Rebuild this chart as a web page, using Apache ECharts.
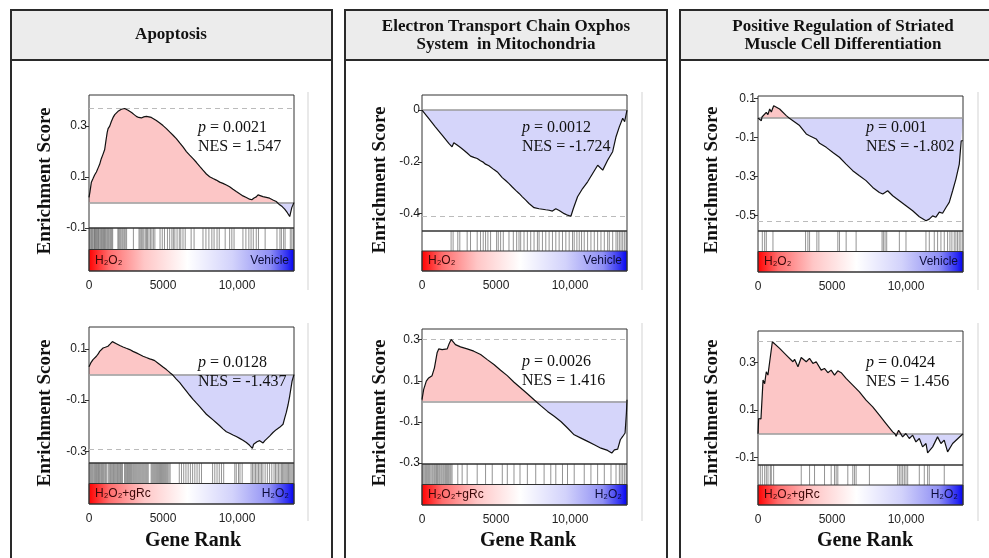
<!DOCTYPE html>
<html><head><meta charset="utf-8">
<script src="https://cdn.jsdelivr.net/npm/echarts@6/dist/echarts.min.js"></script>
<style>html,body{margin:0;padding:0;background:#fff}#c{width:989px;height:558px}</style>
</head><body><div id="c"></div>
<script>
// ---------------- DATA ----------------
const GENES = 13850;
const xTickValues = [0, 5000, 10000];

const headers = ['Apoptosis', 'Electron Transport Chain Oxphos\nSystem  in Mitochondria', 'Positive Regulation of Striated\nMuscle Cell Differentiation'];

const pValues = ['0.0021', '0.0128', '0.0012', '0.0026', '0.001', '0.0424'];
const nesValues = ['1.547', '-1.437', '-1.724', '1.416', '-1.802', '1.456'];
const leftLabels = ['H₂O₂', 'H₂O₂+gRc', 'H₂O₂', 'H₂O₂+gRc', 'H₂O₂', 'H₂O₂+gRc'];
const rightLabels = ['Vehicle', 'H₂O₂', 'Vehicle', 'H₂O₂', 'Vehicle', 'H₂O₂'];

const yTicksA1 = [-0.1, 0.1, 0.3];
const yTicksA2 = [-0.3, -0.1, 0.1];
const yTicksB1 = [-0.4, -0.2, 0];
const yTicksB2 = [-0.3, -0.1, 0.1, 0.3];
const yTicksC1 = [-0.5, -0.3, -0.1, 0.1];
const yTicksC2 = [-0.1, 0.1, 0.3];

// running enrichment scores [gene rank, ES]
const esA1 = [[0,0.02],[60,0.04],[160,0.08],[280,0.095],[380,0.108],[500,0.12],[610,0.135],[720,0.15],[830,0.172],[950,0.19],[1060,0.208],[1150,0.245],[1230,0.275],[1290,0.29],[1400,0.3],[1510,0.318],[1620,0.333],[1740,0.345],[1850,0.35],[1960,0.358],[2080,0.362],[2190,0.366],[2300,0.364],[2410,0.369],[2520,0.366],[2640,0.362],[2750,0.358],[2900,0.352],[3050,0.345],[3200,0.338],[3350,0.334],[3540,0.332],[3700,0.336],[3880,0.338],[4050,0.336],[4210,0.334],[4380,0.328],[4550,0.322],[4780,0.312],[5000,0.302],[5230,0.29],[5450,0.277],[5680,0.264],[5900,0.251],[6130,0.234],[6350,0.218],[6580,0.2],[6800,0.186],[7030,0.172],[7250,0.158],[7480,0.142],[7700,0.127],[7930,0.112],[8150,0.101],[8380,0.094],[8600,0.088],[8830,0.08],[9050,0.075],[9280,0.069],[9500,0.062],[9730,0.052],[9950,0.043],[10180,0.034],[10400,0.026],[10630,0.02],[10850,0.013],[11000,0.011],[11150,0.018],[11300,0.022],[11420,0.03],[11550,0.026],[11750,0.023],[11980,0.02],[12200,0.017],[12430,0.01],[12650,0.004],[12750,0],[12880,-0.009],[13050,-0.016],[13220,-0.026],[13400,-0.04],[13560,-0.055],[13700,-0.02],[13850,0]];
const esA2 = [[0,0.03],[120,0.045],[270,0.058],[400,0.065],[500,0.071],[620,0.08],[720,0.09],[830,0.096],[950,0.103],[1100,0.106],[1280,0.11],[1420,0.118],[1580,0.128],[1700,0.124],[1850,0.12],[2080,0.113],[2300,0.107],[2520,0.102],[2750,0.097],[2970,0.09],[3200,0.084],[3420,0.078],[3650,0.071],[3870,0.066],[4100,0.061],[4270,0.058],[4440,0.054],[4600,0.047],[4780,0.039],[5000,0.029],[5230,0.019],[5450,0.008],[5620,0],[5680,-0.004],[5900,-0.018],[6130,-0.032],[6350,-0.048],[6580,-0.065],[6800,-0.081],[7030,-0.097],[7250,-0.111],[7480,-0.125],[7700,-0.14],[7930,-0.155],[8150,-0.166],[8380,-0.177],[8600,-0.188],[8830,-0.2],[9050,-0.212],[9280,-0.223],[9500,-0.229],[9730,-0.236],[9950,-0.242],[10180,-0.249],[10400,-0.256],[10630,-0.265],[10850,-0.276],[11040,-0.288],[11120,-0.272],[11200,-0.265],[11350,-0.262],[11530,-0.258],[11650,-0.265],[11760,-0.267],[11880,-0.258],[11980,-0.252],[12200,-0.24],[12430,-0.226],[12650,-0.215],[12880,-0.206],[13000,-0.2],[13110,-0.194],[13220,-0.17],[13330,-0.148],[13450,-0.118],[13560,-0.084],[13720,-0.026],[13850,0]];
const esB1 = [[0,0],[450,-0.032],[900,-0.065],[1360,-0.097],[1810,-0.129],[2030,-0.142],[2150,-0.126],[2370,-0.135],[2600,-0.145],[2830,-0.155],[3050,-0.166],[3280,-0.178],[3500,-0.183],[3730,-0.187],[3950,-0.196],[4100,-0.2],[4290,-0.209],[4520,-0.215],[4630,-0.217],[4860,-0.23],[5090,-0.239],[5200,-0.243],[5420,-0.261],[5650,-0.272],[5880,-0.284],[6100,-0.297],[6330,-0.31],[6560,-0.322],[6780,-0.335],[7010,-0.348],[7230,-0.361],[7570,-0.377],[7910,-0.381],[8140,-0.383],[8360,-0.385],[8590,-0.387],[8810,-0.39],[9040,-0.381],[9270,-0.388],[9380,-0.394],[9610,-0.4],[9830,-0.406],[10060,-0.41],[10220,-0.381],[10510,-0.335],[10850,-0.303],[11190,-0.277],[11530,-0.245],[11870,-0.213],[12210,-0.232],[12540,-0.194],[12880,-0.161],[13110,-0.103],[13330,-0.065],[13560,-0.032],[13690,-0.045],[13850,0]];
const esB2 = [[0,0.008],[110,0.057],[290,0.098],[450,0.114],[680,0.125],[840,0.163],[1020,0.236],[1130,0.255],[1360,0.252],[1700,0.255],[1810,0.276],[1970,0.301],[2260,0.276],[2600,0.265],[3050,0.255],[3500,0.244],[3960,0.228],[4410,0.203],[4860,0.179],[5310,0.151],[5760,0.125],[6220,0.093],[6670,0.065],[7120,0.037],[7570,0.008],[7700,0],[8020,-0.021],[8480,-0.049],[8930,-0.073],[9380,-0.098],[9830,-0.13],[10280,-0.163],[10740,-0.179],[11190,-0.195],[11640,-0.211],[12090,-0.228],[12540,-0.239],[12820,-0.252],[13000,-0.236],[13220,-0.233],[13400,-0.187],[13560,-0.171],[13720,-0.154],[13810,-0.057],[13850,0.008]];
const esC1 = [[0,0],[225,-0.014],[270,0.005],[380,0.012],[560,0.029],[670,0.017],[790,0.046],[900,0.031],[1060,0.063],[1460,0.046],[1910,0.012],[2100,0],[2360,-0.014],[2810,-0.039],[3260,-0.082],[3480,-0.091],[3600,-0.082],[3930,-0.108],[4160,-0.13],[4610,-0.151],[5060,-0.177],[5500,-0.202],[5950,-0.237],[6400,-0.271],[6850,-0.297],[7300,-0.322],[7750,-0.357],[8200,-0.383],[8430,-0.391],[8760,-0.374],[9100,-0.4],[9550,-0.425],[10000,-0.451],[10450,-0.477],[10900,-0.508],[11350,-0.528],[11570,-0.52],[11800,-0.503],[12020,-0.51],[12250,-0.484],[12470,-0.49],[12700,-0.46],[12920,-0.434],[13150,-0.374],[13370,-0.314],[13600,-0.237],[13730,-0.117],[13850,-0.117]];
const esC2 = [[0,0],[45,0.064],[160,0.057],[200,0.062],[290,0.055],[340,0.225],[450,0.21],[560,0.26],[670,0.246],[790,0.302],[900,0.295],[970,0.386],[1460,0.358],[1910,0.33],[2360,0.302],[2470,0.312],[2700,0.281],[2920,0.32],[3260,0.302],[3480,0.316],[3710,0.295],[3930,0.302],[4270,0.267],[4490,0.274],[4720,0.256],[4940,0.267],[5170,0.246],[5390,0.264],[5620,0.256],[5950,0.232],[6400,0.204],[6850,0.176],[7300,0.141],[7750,0.113],[8200,0.078],[8650,0.043],[9100,0.008],[9250,0],[9330,-0.01],[9500,0.015],[9770,-0.013],[9990,0.001],[10220,-0.02],[10450,-0.006],[10670,-0.034],[10900,-0.02],[11120,-0.055],[11350,-0.041],[11460,-0.08],[11800,-0.055],[12130,-0.013],[12360,-0.041],[12580,-0.027],[12810,-0.076],[13150,-0.041],[13850,0]];

// gene-set hit positions (gene rank)
const hitsA1 = [30,90,160,210,260,330,380,420,470,520,580,640,690,760,820,870,930,990,1040,1100,1160,1230,1290,1350,1420,1480,1540,1600,1950,2010,2080,2150,2230,2300,2380,2450,2540,3000,3380,3450,3530,3600,3700,3800,3880,3950,4050,4150,4250,4350,4450,4800,4950,5100,5300,5450,5600,5700,5800,5950,6100,6200,6350,6500,6900,7100,7700,7900,8100,8300,8450,8650,8800,9200,9500,9650,9800,10400,10600,10800,10950,11100,11300,11450,11900,12700,12900,13000,13150,13250,13600,13700,13800];
const hitsA2 = [20,80,140,200,260,330,390,450,510,580,640,700,760,830,890,950,1010,1080,1140,1210,1330,1400,1460,1530,1600,1660,1730,1800,1870,1930,2000,2070,2130,2200,2260,2400,2470,2540,2600,2670,2740,2800,2870,2950,3020,3090,3160,3230,3300,3370,3440,3510,3580,3650,3720,3790,3860,3930,4000,4200,4270,4340,4410,4480,4550,4620,4690,4760,4830,4900,4970,5040,5110,5180,5250,5320,5400,5480,6100,6250,6400,6550,6700,6850,7000,7150,7300,7450,7600,8350,8500,8650,8800,8950,9100,9850,9950,10100,10200,10350,10950,11050,11150,11250,11350,11450,11550,11650,11750,11900,12050,12200,12350,12500,12600,12700,12800,12900,13000,13080,13160,13240,13320,13400,13480,13560,13640,13720,13800];
const hitsB1 = [1966,2102,2418,2554,3051,3277,3729,3955,4136,4294,4452,4633,5040,5153,5311,5492,5876,6170,6396,6554,6667,6893,7119,7345,7571,7797,7910,8136,8362,8588,8814,9040,9266,9492,9718,9944,10170,10283,10464,10622,10780,10961,11187,11413,11639,11865,12091,12317,12543,12656,12882,13108,13221,13334,13447,13560,13673,13786];
const hitsB2 = [20,80,150,230,300,380,450,520,600,680,750,830,900,980,1050,1130,1200,1280,1350,1430,1500,1580,1650,1730,1800,1880,1950,2030,2418,2712,3051,3729,4294,4746,5424,5763,6215,6622,7119,7684,8249,8701,9040,9492,9831,10283,10961,11413,11865,12317,12769,13108,13334,13447,13560,13673,13786];
const hitsC1 = [292,449,562,1011,3213,3370,3483,3977,4112,5393,5505,5955,6629,8381,8471,8584,8696,9550,9999,11347,11572,11909,12134,12359,12584,12808,12966,13100,13257,13370,13482,13594,13707];
const hitsC2 = [157,292,449,562,674,831,899,1056,2921,3483,3820,4494,4943,5168,5280,5393,6067,6404,6516,6629,7527,9437,9550,9662,9775,9887,9999,10112,10898,11235,11460,11572,12584];

// ---------------- LAYOUT / STYLE ----------------
const panels = [
  {es: esA1, hits: hitsA1, ticks: yTicksA1, ymin: -0.1,   ymax: 0.422, left: 89,  right: 294, top: 95,  esB: 228, barB: 271, txtX: 198, txtY: 128, yTitleX: 45,  titleY: 181},
  {es: esA2, hits: hitsA2, ticks: yTicksA2, ymin: -0.345, ymax: 0.185, left: 89,  right: 294, top: 327, esB: 463, barB: 504, txtX: 198, txtY: 363, yTitleX: 45,  titleY: 413},
  {es: esB1, hits: hitsB1, ticks: yTicksB1, ymin: -0.467, ymax: 0.058, left: 422, right: 627, top: 95,  esB: 231, barB: 271, txtX: 522, txtY: 128, yTitleX: 380, titleY: 180},
  {es: esB2, hits: hitsB2, ticks: yTicksB2, ymin: -0.305, ymax: 0.352, left: 422, right: 627, top: 329, esB: 464, barB: 505, txtX: 522, txtY: 362, yTitleX: 380, titleY: 413},
  {es: esC1, hits: hitsC1, ticks: yTicksC1, ymin: -0.581, ymax: 0.113, left: 758, right: 963, top: 96,  esB: 231, barB: 272, txtX: 866, txtY: 128, yTitleX: 712, titleY: 180},
  {es: esC2, hits: hitsC2, ticks: yTicksC2, ymin: -0.131, ymax: 0.431, left: 758, right: 963, top: 331, esB: 465, barB: 505, txtX: 866, txtY: 363, yTitleX: 712, titleY: 413}
];
panels.forEach((p, i) => { p.p = pValues[i]; p.nes = nesValues[i]; p.lab = leftLabels[i]; p.rab = rightLabels[i]; });

const boxes = [{x: 11, w: 321, cx: 171}, {x: 345, w: 322, cx: 506}, {x: 680, w: 340, cx: 843}];
const faintLines = [308, 642, 978];

const SANS = '"Liberation Sans", Arial, sans-serif';
const SERIF = '"Liberation Serif", "Times New Roman", serif';
const POS = '#fcc6c6', NEG = '#d5d5fa';

const chart = echarts.init(document.getElementById('c'), null, {renderer: 'canvas'});
const grid = [], xAxis = [], yAxis = [], series = [], graphic = [];
const fmtY = v => String(Math.round(v * 10) / 10);
const fmtX = v => v >= 10000 ? v.toLocaleString('en-US') : String(v);

const barStops = [
  {offset: 0, color: '#ff0000'}, {offset: 0.1, color: '#ff6c6c'}, {offset: 0.27, color: '#ffc6c6'},
  {offset: 0.48, color: '#ffffff'}, {offset: 0.7, color: '#d2d2fb'}, {offset: 0.88, color: '#9090f4'},
  {offset: 0.97, color: '#2a2af2'}, {offset: 1, color: '#0000ee'}
];

panels.forEach((p, i) => {
  const g1 = 2 * i, g2 = 2 * i + 1;
  const w = p.right - p.left;
  grid.push({left: p.left, top: p.top, width: w, height: p.esB - p.top, show: true, borderColor: '#333', borderWidth: 1, backgroundColor: 'transparent', z: 3});
  grid.push({left: p.left, top: p.esB, width: w, height: p.barB - p.esB, show: true, borderColor: '#333', borderWidth: 1, backgroundColor: 'transparent', z: 3});
  xAxis.push({gridIndex: g1, type: 'value', min: 0, max: GENES, show: false});
  xAxis.push({gridIndex: g2, type: 'value', min: 0, max: GENES, interval: 5000,
    axisLine: {show: false}, axisTick: {show: false}, splitLine: {show: false},
    axisLabel: {formatter: fmtX, margin: 9, fontSize: 12, fontFamily: SANS, color: '#222', showMaxLabel: false, showMinLabel: true}});
  yAxis.push({gridIndex: g1, type: 'value', min: p.ymin, max: p.ymax,
    axisLine: {show: false}, splitLine: {show: false},
    axisTick: {show: true, length: 4, lineStyle: {color: '#333'}, customValues: p.ticks},
    axisLabel: {fontSize: 12, fontFamily: SANS, color: '#222', margin: 2, formatter: fmtY, customValues: p.ticks}});
  yAxis.push({gridIndex: g2, type: 'value', min: 0, max: 2, show: false});

  const extreme = p.es.reduce((a, d) => Math.abs(d[1]) > Math.abs(a) ? d[1] : a, 0);
  series.push({type: 'line', xAxisIndex: g1, yAxisIndex: g1, data: p.es.map(d => [d[0], Math.max(d[1], 0)]),
    showSymbol: false, silent: true, lineStyle: {width: 0}, areaStyle: {color: POS, opacity: 1, origin: 0}, z: 1});
  series.push({type: 'line', xAxisIndex: g1, yAxisIndex: g1, data: p.es.map(d => [d[0], Math.min(d[1], 0)]),
    showSymbol: false, silent: true, lineStyle: {width: 0}, areaStyle: {color: NEG, opacity: 1, origin: 0}, z: 1});
  series.push({type: 'line', xAxisIndex: g1, yAxisIndex: g1, data: p.es, showSymbol: false, silent: true,
    lineStyle: {color: '#111', width: 1.2}, z: 5,
    markLine: {silent: true, symbol: 'none', label: {show: false},
      data: [
        {yAxis: 0, lineStyle: {color: '#9a9a9a', width: 1.5, type: 'solid'}},
        {yAxis: extreme, lineStyle: {color: '#bbb', width: 1, type: [5, 4]}}
      ]}});
  series.push({type: 'custom', xAxisIndex: g2, yAxisIndex: g2, data: p.hits.map(h => [h]), silent: true, z: 2,
    encode: {x: 0},
    renderItem: (params, api) => {
      const x = api.value(0);
      const a = api.coord([x, 1]), b = api.coord([x, 2]);
      return {type: 'line', shape: {x1: a[0], y1: a[1], x2: b[0], y2: b[1]}, style: {stroke: 'rgba(60,60,60,0.55)', lineWidth: 1}};
    }});
  series.push({type: 'custom', xAxisIndex: g2, yAxisIndex: g2, data: [[0, GENES]], silent: true, z: 2,
    encode: {x: [0, 1]},
    renderItem: (params, api) => {
      const a = api.coord([api.value(0), 1]), b = api.coord([api.value(1), 0]);
      const my = (a[1] + b[1]) / 2;
      return {type: 'group', children: [
        {type: 'rect', shape: {x: a[0], y: a[1], width: b[0] - a[0], height: b[1] - a[1]},
          style: {fill: new echarts.graphic.LinearGradient(0, 0, 1, 0, barStops), stroke: '#333', lineWidth: 1}},
        {type: 'text', x: a[0] + 6, y: my, style: {text: p.lab, fill: '#3a0808', font: '12px ' + SANS, align: 'left', verticalAlign: 'middle', textAlign: 'left', textVerticalAlign: 'middle'}},
        {type: 'text', x: b[0] - 5, y: my, style: {text: p.rab, fill: '#0c0c3a', font: '12px ' + SANS, align: 'right', verticalAlign: 'middle', textAlign: 'right', textVerticalAlign: 'middle'}}
      ]};
    }});

  // annotations
  graphic.push({type: 'text', x: p.txtX, y: p.txtY, silent: true, z: 100,
    style: {text: '{i|p} = ' + p.p, fontFamily: SERIF, fontSize: 16, fill: '#111', verticalAlign: 'middle', textVerticalAlign: 'middle',
      rich: {i: {fontStyle: 'italic', fontFamily: SERIF, fontSize: 16, fill: '#111'}}}});
  graphic.push({type: 'text', x: p.txtX, y: p.txtY + 18.5, silent: true, z: 100,
    style: {text: 'NES = ' + p.nes, fontFamily: SERIF, fontSize: 16, fill: '#111', verticalAlign: 'middle', textVerticalAlign: 'middle'}});
  graphic.push({type: 'text', x: p.yTitleX, y: p.titleY, rotation: Math.PI / 2, silent: true, z: 100,
    style: {text: 'Enrichment Score', fontFamily: SERIF, fontSize: 19, fontWeight: 'bold', fill: '#111',
      align: 'center', verticalAlign: 'middle', textAlign: 'center', textVerticalAlign: 'middle'}});
});

boxes.forEach((b, i) => {
  graphic.push({type: 'rect', shape: {x: b.x, y: 10, width: b.w, height: 600}, silent: true, style: {fill: 'none', stroke: '#2a2a2a', lineWidth: 2}});
  graphic.push({type: 'rect', shape: {x: b.x, y: 10, width: b.w, height: 50}, silent: true, style: {fill: '#ececec', stroke: '#2a2a2a', lineWidth: 2}});
  const lines = headers[i].split('\n');
  lines.forEach((t, k) => {
    const y = lines.length === 1 ? 35 : 27 + k * 18;
    graphic.push({type: 'text', x: b.cx, y: y, silent: true, z: 100,
      style: {text: t, fontFamily: SERIF, fontSize: 17, fontWeight: 'bold', fill: '#111',
        align: 'center', verticalAlign: 'middle', textAlign: 'center', textVerticalAlign: 'middle'}});
  });
  graphic.push({type: 'text', x: [193, 528, 865][i], y: 541, silent: true, z: 100,
    style: {text: 'Gene Rank', fontFamily: SERIF, fontSize: 20, fontWeight: 'bold', fill: '#111',
      align: 'center', verticalAlign: 'middle', textAlign: 'center', textVerticalAlign: 'middle'}});
  const fx = faintLines[i];
  graphic.push({type: 'line', shape: {x1: fx, y1: 92, x2: fx, y2: 290}, silent: true, style: {stroke: '#e2e2e2', lineWidth: 1.5}});
  graphic.push({type: 'line', shape: {x1: fx, y1: 323, x2: fx, y2: 521}, silent: true, style: {stroke: '#e2e2e2', lineWidth: 1.5}});
});

chart.setOption({
  animation: false,
  backgroundColor: '#fff',
  grid, xAxis, yAxis, series, graphic
});
</script></body></html>
